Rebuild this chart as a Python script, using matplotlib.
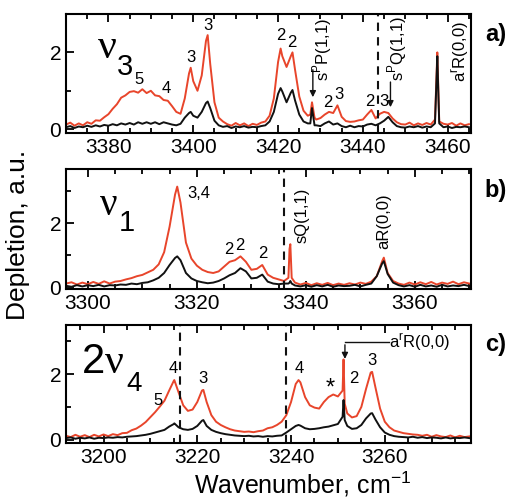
import numpy as np
import matplotlib
matplotlib.use("Agg")
import matplotlib.pyplot as plt
from matplotlib.ticker import MultipleLocator

plt.rcParams['font.family'] = ['Liberation Sans', 'DejaVu Sans']
plt.rcParams['mathtext.fontset'] = 'custom'
plt.rcParams['mathtext.rm'] = 'Liberation Sans'

RED = '#e8452b'
BLACK = '#111111'

# ---- panel a (nu3) ----
grid_a = np.arange(3370, 3466)
red_a = [0.12, 0.17, 0.09, 0.15, 0.10, 0.18, 0.14, 0.23, 0.22, 0.31,
         0.39, 0.53, 0.65, 0.82, 0.88, 0.97, 0.99, 0.95, 1.04, 0.94,
         1.00, 0.88, 0.86, 0.76, 0.74, 0.60, 0.45, 0.40, 0.80, 1.45,
         1.25, 1.00, 1.40, 2.30, 1.70, 0.70, 0.30, 0.20, 0.13, 0.09,
         0.16, 0.10, 0.15, 0.08, 0.14, 0.11, 0.17, 0.20, 0.35, 0.80,
         1.75, 1.90, 1.62, 1.90, 1.55, 0.85, 0.48, 0.35, 0.70, 0.25,
         0.29, 0.38, 0.45, 0.42, 0.62, 0.32, 0.21, 0.19, 0.20, 0.23,
         0.25, 0.38, 0.50, 0.28, 0.40, 0.45, 0.42, 0.28, 0.18, 0.13,
         0.12, 0.17, 0.10, 0.15, 0.11, 0.16, 0.12, 0.25, 0.20, 0.14,
         0.12, 0.16, 0.09, 0.15, 0.10, 0.13]
black_a = [0.05, 0.08, 0.03, 0.07, 0.05, 0.09, 0.06, 0.10, 0.07, 0.11,
           0.09, 0.13, 0.10, 0.15, 0.12, 0.16, 0.12, 0.18, 0.14, 0.18,
           0.14, 0.18, 0.13, 0.18, 0.15, 0.12, 0.10, 0.14, 0.30, 0.42,
           0.35, 0.30, 0.45, 0.68, 0.55, 0.22, 0.10, 0.06, 0.08, 0.03,
           0.07, 0.05, 0.08, 0.04, 0.06, 0.05, 0.08, 0.10, 0.20, 0.45,
           0.92, 0.98, 0.70, 0.95, 0.75, 0.38, 0.20, 0.15, 0.55, 0.10,
           0.08, 0.15, 0.20, 0.12, 0.15, 0.08, 0.05, 0.09, 0.05, 0.08,
           0.07, 0.12, 0.14, 0.10, 0.15, 0.22, 0.32, 0.18, 0.08, 0.05,
           0.04, 0.07, 0.05, 0.08, 0.04, 0.07, 0.05, 0.15, 0.15, 0.05,
           0.07, 0.03, 0.06, 0.05, 0.07, 0.05]
peak_x_a = [3399.4, 3403.4, 3420.6, 3423.4, 3427.6, 3428.6, 3457.3, 3457.55, 3457.8]
peak_red_a = [1.60, 2.45, 2.10, 2.00, 0.38, 0.30, 1.20, 2.00, 1.00]
peak_black_a = [0.45, 0.72, 1.07, 1.02, 0.15, 0.10, 1.10, 1.90, 0.90]

# ---- panel b (nu1) ----
grid_b = np.arange(3296, 3371)
red_b = [0.12, 0.16, 0.09, 0.15, 0.10, 0.17, 0.11, 0.19, 0.12, 0.18,
         0.20, 0.25, 0.29, 0.35, 0.39, 0.47, 0.55, 0.72, 1.10, 1.90,
         2.90, 2.65, 1.40, 0.90, 0.68, 0.55, 0.48, 0.45, 0.50, 0.65,
         0.80, 0.85, 0.97, 0.80, 0.55, 0.58, 0.70, 0.40, 0.30, 0.25,
         0.20, 1.20, 0.15, 0.09, 0.14, 0.07, 0.13, 0.08, 0.14, 0.07,
         0.12, 0.08, 0.13, 0.09, 0.15, 0.11, 0.18, 0.35, 0.82, 0.45,
         0.20, 0.12, 0.08, 0.15, 0.09, 0.16, 0.10, 0.17, 0.09, 0.15,
         0.11, 0.18, 0.10, 0.16, 0.12]
black_b = [0.05, 0.02, 0.07, 0.03, 0.07, 0.04, 0.08, 0.03, 0.07, 0.06,
           0.09, 0.08, 0.12, 0.10, 0.14, 0.16, 0.22, 0.30, 0.45, 0.70,
           0.92, 0.85, 0.45, 0.28, 0.20, 0.16, 0.13, 0.15, 0.20, 0.28,
           0.38, 0.45, 0.60, 0.50, 0.28, 0.30, 0.40, 0.18, 0.12, 0.10,
           0.12, 0.15, 0.06, 0.03, 0.07, 0.02, 0.07, 0.03, 0.08, 0.02,
           0.06, 0.04, 0.05, 0.08, 0.03, 0.08, 0.12, 0.35, 0.75, 0.42,
           0.15, 0.07, 0.03, 0.07, 0.02, 0.08, 0.03, 0.06, 0.02, 0.08,
           0.03, 0.06, 0.04, 0.08, 0.04]
peak_x_b = [3316.4, 3336.8, 3337.15, 3337.4, 3354.3]
peak_red_b = [3.15, 0.30, 1.35, 0.30, 0.93]
peak_black_b = [0.97, 0.12, 0.20, 0.12, 0.82]

# ---- panel c (2nu4) ----
grid_c = np.arange(3192, 3279)
red_c = [0.12, 0.08, 0.15, 0.09, 0.14, 0.08, 0.15, 0.10, 0.16, 0.11,
         0.17, 0.14, 0.20, 0.21, 0.29, 0.34, 0.43, 0.54, 0.69, 0.84,
         1.01, 1.19, 1.50, 1.80, 1.45, 1.05, 0.88, 0.92, 1.15, 1.50,
         1.15, 0.75, 0.55, 0.45, 0.38, 0.32, 0.28, 0.26, 0.24, 0.25,
         0.23, 0.26, 0.28, 0.35, 0.38, 0.45, 0.55, 0.75, 1.15, 1.70,
         1.75, 1.30, 1.05, 0.98, 0.95, 1.15, 1.30, 1.38, 1.32, 1.50,
         0.80, 0.68, 0.72, 1.00, 1.55, 2.05, 1.60, 0.95, 0.55, 0.38,
         0.28, 0.24, 0.20, 0.18, 0.16, 0.15, 0.12, 0.15, 0.09, 0.14,
         0.10, 0.08, 0.13, 0.07, 0.12, 0.08, 0.10]
black_c = [0.05, 0.07, 0.03, 0.06, 0.04, 0.07, 0.03, 0.06, 0.05, 0.07,
           0.06, 0.08, 0.07, 0.09, 0.10, 0.11, 0.13, 0.15, 0.18, 0.22,
           0.26, 0.30, 0.40, 0.48, 0.38, 0.32, 0.30, 0.33, 0.42, 0.58,
           0.42, 0.30, 0.24, 0.20, 0.17, 0.15, 0.13, 0.12, 0.11, 0.12,
           0.10, 0.11, 0.09, 0.11, 0.10, 0.12, 0.13, 0.22, 0.32, 0.42,
           0.43, 0.35, 0.32, 0.33, 0.35, 0.38, 0.40, 0.44, 0.48, 0.70,
           0.42, 0.33, 0.35, 0.45, 0.65, 0.80, 0.62, 0.38, 0.22, 0.15,
           0.11, 0.09, 0.08, 0.07, 0.09, 0.06, 0.08, 0.05, 0.07, 0.06,
           0.04, 0.07, 0.04, 0.06, 0.05, 0.07, 0.05]
peak_x_c = [3215.1, 3221.3, 3241.6, 3251.2, 3251.45, 3257.3]
peak_red_c = [1.82, 1.52, 1.82, 2.45, 1.10, 2.07]
peak_black_c = [0.50, 0.60, 0.45, 1.21, 0.60, 0.81]


def merge(grid, vals, px, pv):
    x = np.concatenate([grid, px])
    y = np.concatenate([vals, pv])
    order = np.argsort(x)
    return x[order], y[order]


def setup(ax, xlim, ylim):
    ax.set_xlim(*xlim)
    ax.set_ylim(*ylim)
    ax.xaxis.set_major_locator(MultipleLocator(20))
    ax.xaxis.set_minor_locator(MultipleLocator(5))
    ax.yaxis.set_major_locator(MultipleLocator(2))
    ax.yaxis.set_minor_locator(MultipleLocator(1))
    ax.tick_params(which='both', direction='in', top=True, labelsize=15, width=1.3)
    ax.tick_params(which='major', length=6)
    ax.tick_params(which='minor', length=3.5)
    for s in ax.spines.values():
        s.set_linewidth(1.5)


fig = plt.figure(figsize=(5.13, 5.0), dpi=100)
ax_a = fig.add_axes([0.1287, 0.734, 0.7895, 0.238])
ax_b = fig.add_axes([0.1287, 0.422, 0.7895, 0.240])
ax_c = fig.add_axes([0.1287, 0.114, 0.7895, 0.236])

panels = [
    (ax_a, grid_a, red_a, black_a, peak_x_a, peak_red_a, peak_black_a, (3370, 3465.5), (-0.1, 3.0)),
    (ax_b, grid_b, red_b, black_b, peak_x_b, peak_red_b, peak_black_b, (3296, 3370.3), (-0.05, 3.7)),
    (ax_c, grid_c, red_c, black_c, peak_x_c, peak_red_c, peak_black_c, (3192, 3278.4), (-0.1, 3.5)),
]
for ax, g, r, b, px, pr, pb, xl, yl in panels:
    xr, yr = merge(g, r, px, pr)
    xb, yb = merge(g, b, px, pb)
    ax.plot(xr, yr, color=RED, lw=1.4)
    ax.plot(xb, yb, color=BLACK, lw=1.4)
    setup(ax, xl, yl)

# dashed markers
ax_a.axvline(3443.5, color=BLACK, ls=(0, (4, 3)), lw=1.5)
ax_b.axvline(3336.0, color=BLACK, ls=(0, (4, 3)), lw=1.5)
ax_c.axvline(3216.3, color=BLACK, ls=(0, (4, 3)), lw=1.5)
ax_c.axvline(3238.9, color=BLACK, ls=(0, (4, 3)), lw=1.5)

num = dict(fontsize=12, ha='center', va='center')

# panel a labels
ax_a.text(0.079, 0.63, 'ν', transform=ax_a.transAxes, fontsize=30, family='Liberation Serif')
ax_a.text(0.126, 0.49, '3', transform=ax_a.transAxes, fontsize=21)
for x, y, s in [(3387.3, 1.3, '5'), (3393.6, 1.05, '4'), (3399.5, 1.87, '3'), (3403.5, 2.7, '3'),
                (3420.7, 2.43, '2'), (3423.3, 2.26, '2'), (3431.8, 0.70, '2'), (3434.4, 0.9, '3'),
                (3441.6, 0.72, '2'), (3444.9, 0.72, '3')]:
    ax_a.text(x, y, s, **num)
ax_a.annotate('', xy=(3428.2, 0.76), xytext=(3428.2, 1.62),
              arrowprops=dict(arrowstyle='-|>', color=BLACK, lw=1, mutation_scale=9))
ax_a.annotate('', xy=(3446.5, 0.5), xytext=(3446.5, 1.3),
              arrowprops=dict(arrowstyle='-|>', color=BLACK, lw=1, mutation_scale=9))
rot = dict(fontsize=12, rotation=90, ha='center', va='bottom')
ax_a.text(3430.5, 1.25, r's$^\mathregular{P}$P(1,1)', **rot)
ax_a.text(3448.0, 1.25, r's$^\mathregular{P}$Q(1,1)', **rot)
ax_a.text(3463.0, 1.22, r'a$^\mathregular{r}$R(0,0)', **rot)

# panel b labels
ax_b.text(0.084, 0.617, 'ν', transform=ax_b.transAxes, fontsize=28, family='Liberation Serif')
ax_b.text(0.131, 0.48, '1', transform=ax_b.transAxes, fontsize=21)
for x, y, s in [(3320.4, 2.93, '3,4'), (3325.8, 1.18, '2'), (3327.8, 1.3, '2'), (3332.1, 1.07, '2')]:
    ax_b.text(x, y, s, **num)
ax_b.text(3339.3, 1.4, 'sQ(1,1)', **rot)
ax_b.text(3354.3, 1.2, 'aR(0,0)', **rot)

# panel c labels
ax_c.text(0.040, 0.593, '2', transform=ax_c.transAxes, fontsize=30)
ax_c.text(0.097, 0.593, 'ν', transform=ax_c.transAxes, fontsize=30, family='Liberation Serif')
ax_c.text(0.150, 0.44, '4', transform=ax_c.transAxes, fontsize=20)
for x, y, s in [(3211.6, 1.21, '5'), (3214.8, 2.17, '4'), (3221.3, 1.87, '3'), (3241.8, 2.17, '4'),
                (3253.4, 1.87, '2'), (3257.3, 2.42, '3')]:
    ax_c.text(x, y, s, **num)
ax_c.text(3248.4, 1.55, '*', fontsize=17, ha='center', va='center')
ax_c.plot([3251.5, 3261.0], [2.98, 2.98], color=BLACK, lw=1)
ax_c.annotate('', xy=(3251.5, 2.38), xytext=(3251.5, 2.98),
              arrowprops=dict(arrowstyle='-|>', color=BLACK, lw=1, mutation_scale=9))
ax_c.text(3261.0, 2.98, r'a$^\mathregular{r}$R(0,0)', fontsize=12, ha='left', va='center')

# panel tags and axis titles
fig.text(0.967, 0.93, 'a)', fontsize=17, weight='bold', ha='center', va='center')
fig.text(0.967, 0.62, 'b)', fontsize=17, weight='bold', ha='center', va='center')
fig.text(0.967, 0.31, 'c)', fontsize=17, weight='bold', ha='center', va='center')
fig.text(0.035, 0.53, 'Depletion, a.u.', rotation=90, fontsize=19, ha='center', va='center')
fig.text(0.589, 0.032, r'Wavenumber, cm$^\mathregular{-1}$', fontsize=18, ha='center', va='center')

fig.savefig('out.png', dpi=100)
